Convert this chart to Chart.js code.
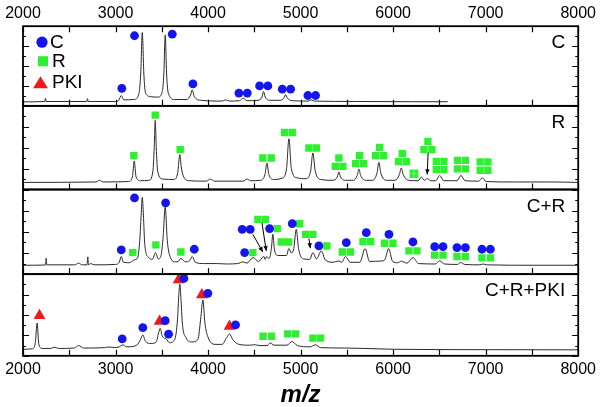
<!DOCTYPE html>
<html>
<head>
<meta charset="utf-8">
<script src="https://cdn.jsdelivr.net/npm/chart.js@4.4.1/dist/chart.umd.min.js"></script>
<style>
  html, body { margin: 0; padding: 0; background: #fff; }
  #wrap { width: 600px; height: 407px; }
</style>
</head>
<body>
<div id="wrap"><canvas id="spec" width="600" height="407"></canvas></div>
<script>
// ---- valores: [m/z, intensidad relativa 0-100 por panel] ----
const panelNames = ['C', 'R', 'C+R', 'C+R+PKI'];
const legendNames = ['C', 'R', 'PKI'];

// espectro C
const specC = [
  [2000, 5], [2236, 5.5], [2243, 9.5], [2250, 5.5], [2690, 5.5], [2697, 9], [2704, 5.5],
  [3000, 5.5], [3035, 7], [3062, 13], [3090, 7.5], [3200, 8],
  [3250, 14], [3272, 40], [3289, 92], [3306, 40], [3325, 16], [3380, 11.5],
  [3460, 11], [3505, 18], [3522, 40], [3537, 89], [3552, 40], [3570, 16], [3640, 8],
  [3770, 8], [3808, 13], [3829, 20], [3850, 12], [3920, 7],
  [4150, 6], [4189, 7.5], [4230, 6],
  [4340, 6.5], [4381, 9.6], [4420, 6.5],
  [4540, 7], [4582, 11], [4600, 18], [4618, 11], [4670, 7],
  [4780, 7], [4820, 10], [4838, 14], [4856, 10], [4910, 6.5],
  [5080, 6], [5116, 7.5], [5150, 6],
  [5600, 5.5], [6200, 5.2], [6590, 5.2]
];
// espectro R
const specR = [
  [2000, 8.5], [2790, 9], [2827, 11], [2865, 9],
  [3140, 9.5], [3182, 15], [3202, 34], [3222, 15], [3270, 10.5],
  [3360, 11], [3404, 22], [3418, 50], [3429, 82.5], [3440, 50], [3455, 22], [3510, 12.5],
  [3630, 12], [3672, 20], [3695, 41.7], [3710, 27], [3730, 17], [3790, 10.5],
  [3980, 10], [4024, 12.5], [4070, 10],
  [4380, 10], [4420, 12.5], [4460, 10.5],
  [4570, 11], [4615, 18], [4636, 31.7], [4657, 18], [4710, 12],
  [4800, 13.5], [4848, 25], [4874, 60.7], [4900, 25], [4960, 14],
  [5060, 13], [5108, 22], [5133, 43.7], [5158, 22], [5220, 12],
  [5350, 11], [5396, 15], [5414, 21], [5432, 15], [5490, 11],
  [5570, 11], [5612, 17], [5630, 24.6], [5648, 17], [5710, 11],
  [5780, 11], [5826, 20], [5846, 32.5], [5866, 20], [5930, 11],
  [6020, 11], [6068, 18], [6088, 25.8], [6108, 18], [6170, 11],
  [6270, 10.5], [6305, 14.7], [6338, 11], [6370, 13], [6405, 10.5],
  [6460, 10.5], [6503, 16.7], [6548, 10.5],
  [6690, 10.5], [6733, 16.7], [6778, 10.5],
  [6925, 10], [6964, 13.9], [7005, 9.5],
  [7300, 9], [7700, 9], [8000, 8.5]
];
// espectro C+R
const specCR = [
  [2000, 10.5], [2242, 10.8], [2250, 18.8], [2258, 11], [2560, 11], [2600, 13], [2640, 11],
  [2692, 11], [2700, 20.4], [2708, 11], [2730, 12.5], [2770, 11],
  [3000, 11.5], [3040, 14], [3062, 20.8], [3085, 14], [3150, 13.5], [3205, 17], [3238, 19],
  [3262, 40], [3277, 70], [3289, 90.6], [3301, 70], [3316, 35], [3355, 20],
  [3400, 17.5], [3432, 25.5], [3462, 18],
  [3492, 22], [3515, 45], [3537, 79.6], [3559, 40], [3592, 20], [3650, 14.5],
  [3680, 15], [3703, 18.5], [3760, 14.5], [3800, 16], [3829, 20.8], [3862, 14], [3960, 12.5],
  [4100, 12.5], [4200, 12], [4320, 12.5], [4376, 14.5], [4420, 13], [4485, 19.6], [4545, 15],
  [4603, 20.8], [4617, 17.5], [4632, 20.8], [4660, 18.5], [4684, 30], [4700, 47], [4716, 30], [4752, 22],
  [4848, 22], [4873, 30.2], [4900, 25], [4926, 30], [4953, 52.9], [4978, 30], [5030, 18],
  [5100, 17.5], [5133, 25.5], [5172, 18], [5224, 27.5], [5265, 17],
  [5350, 14], [5406, 15.6], [5445, 14], [5486, 20.8], [5535, 14],
  [5640, 14], [5697, 30.2], [5745, 15], [5870, 15.5], [5910, 17], [5951, 30.2], [5995, 15],
  [6050, 13.5], [6088, 15.3], [6150, 13], [6214, 19.6], [6275, 12.5],
  [6455, 12], [6503, 15.6], [6555, 12],
  [6695, 11.5], [6730, 13.7], [6772, 11.5],
  [6935, 11], [6971, 12], [7012, 11],
  [7500, 10.5], [8000, 10.5]
];
// espectro C+R+PKI
const specCRP = [
  [2000, 8], [2100, 8.5], [2132, 15], [2153, 40.2], [2170, 15], [2205, 9],
  [2300, 9], [2340, 10.6], [2385, 9], [2555, 9.5], [2600, 12.6], [2655, 9.5],
  [2880, 10], [2930, 10.8], [2990, 10],
  [3040, 11], [3079, 13.4], [3120, 11],
  [3230, 13], [3270, 20], [3295, 25.6], [3322, 18], [3385, 15],
  [3440, 17], [3465, 28], [3483, 33.8], [3505, 24], [3548, 20.7], [3585, 16],
  [3640, 20], [3670, 45], [3684, 75], [3695, 87.8], [3707, 70], [3722, 40], [3762, 22], [3825, 17],
  [3890, 20], [3920, 45], [3944, 68.3], [3966, 40], [4002, 22], [4085, 14],
  [4150, 14], [4200, 22], [4232, 26.8], [4266, 20], [4335, 14],
  [4450, 13], [4503, 13.6], [4560, 12.5], [4640, 12.5], [4672, 15.9], [4712, 13],
  [4850, 13], [4910, 17.5], [4965, 12.5],
  [5100, 11], [5162, 13.4], [5215, 10],
  [5500, 9.5], [6000, 8], [7000, 7.5], [8000, 7.3]
];

// marcadores
const circC = [[3068, 22], [3205, 88], [3613, 90], [3836, 27.5], [4333, 16], [4424, 16],
  [4557, 25], [4646, 25], [4802, 21], [4892, 21], [5079, 13], [5162, 13]];

const sqR = [[3198, 40.5], [3429, 89], [3699, 47.6], [4592, 37.7], [4683, 37.7], [4827, 68.2], [4910, 68.2],
  [5090, 49.6], [5170, 49.6], [5414, 37.7], [5375, 27.7], [5457, 27.7],
  [5638, 40.5], [5595, 31], [5681, 31], [5854, 50.4], [5811, 40.5], [5897, 40.5],
  [6099, 42.9], [6059, 33.3], [6143, 33.3], [6376, 57.5], [6333, 47.6], [6419, 47.6],
  [6467, 33.7], [6549, 33.7], [6467, 23.8], [6549, 23.8],
  [6695, 34.9], [6781, 34.9], [6695, 24.6], [6781, 24.6],
  [6941, 33], [7024, 33], [6941, 23], [7024, 23]];
const sqRsmall = [[6200, 21.5], [6250, 21.5], [6200, 16.2], [6250, 16.2]];
const arrowsR = [[6378, 44, 6368, 18]];

const circCR = [[3062, 28.6], [3205, 90.2], [3541, 84.3], [3851, 29.4], [4369, 52.9], [4455, 52.9],
  [4395, 25.5], [4665, 53.8], [4910, 59.6], [5198, 33.3], [5494, 37.3], [5710, 49], [5955, 47],
  [6214, 38], [6449, 32.5], [6539, 32.5], [6690, 31.4], [6781, 31.4], [6960, 29.4], [7051, 29.4]];
const sqCR = [[3187, 25.5], [3436, 34.5], [3706, 26.2], [4484, 25.5], [4538, 64.7], [4618, 64.7],
  [4748, 53.8], [4791, 38], [4870, 38], [4989, 59.6], [5054, 47], [5133, 47], [5284, 33.3],
  [5451, 26.2], [5537, 26.2], [5674, 38.4], [5757, 38.4], [5908, 36.5], [5998, 36.5],
  [6171, 27.5], [6257, 27.5], [6449, 22.4], [6539, 22.4], [6690, 20.8], [6781, 20.8],
  [6960, 19.2], [7051, 19.2]];
const arrowsCR = [[4484, 47, 4592, 26.2], [4582, 60.8, 4629, 27.4], [5090, 42, 5105, 30.6]];

const triCRP = [[2178, 49.2], [3476, 42.3], [3681, 93], [3933, 74.7], [4232, 36.2]];
const circCRP = [[3072, 20.7], [3295, 34.5], [3537, 43], [3573, 26.5], [3739, 94.8], [3998, 76.5], [4297, 37.8]];
const sqCRP = [[4595, 24], [4686, 24], [4860, 26.8], [4946, 26.8], [5133, 21.6], [5216, 21.6]];

const BLUE = '#1414ee';
const GREEN = '#2ef02e';
const RED = '#f01818';
const FONT = 'Arial, "Liberation Sans", sans-serif';

function marks(data, axis, style, color, r) {
  return {
    type: 'scatter', data: data, yAxisID: axis, pointStyle: style,
    pointRadius: r, pointHoverRadius: r, backgroundColor: color, borderWidth: 0
  };
}
function trace(data, axis) {
  return {
    type: 'line', data: data, yAxisID: axis, borderColor: '#2a2a2a', borderWidth: 1,
    pointRadius: 0, cubicInterpolationMode: 'monotone', fill: false
  };
}

const panelIds = ['y1', 'y2', 'y3', 'y4'];
const arrowSets = { y2: arrowsR, y3: arrowsCR };

function yAxis(weight) {
  return {
    type: 'linear', position: 'left', stack: 'panels', stackWeight: weight,
    min: 0, max: 100, offset: false,
    ticks: { display: false, stepSize: 12.5 },
    grid: { display: false, drawTicks: false },
    border: { display: false }
  };
}

// marco, ticks interiores, etiquetas, flechas y leyenda
const framePlugin = {
  id: 'framePlugin',
  afterDatasetsDraw(chart) {
    const ctx = chart.ctx;
    const area = chart.chartArea;
    const xs = chart.scales.x;
    ctx.save();
    ctx.strokeStyle = '#000';
    ctx.fillStyle = '#000';
    panelIds.forEach((id, p) => {
      const s = chart.scales[id];
      ctx.lineWidth = 1.2;
      xs.ticks.forEach(t => {
        const px = Math.round(xs.getPixelForValue(t.value)) + 0.5;
        ctx.beginPath();
        ctx.moveTo(px, s.bottom);
        ctx.lineTo(px, s.bottom - 6);
        if (p === 0) {
          ctx.moveTo(px, s.top);
          ctx.lineTo(px, s.top + 6);
        }
        ctx.stroke();
      });
      s.ticks.forEach((t, i) => {
        const py = Math.round(s.getPixelForValue(t.value)) + 0.5;
        const len = i % 2 ? 3 : 6;
        ctx.beginPath();
        ctx.moveTo(area.left, py);
        ctx.lineTo(area.left + len, py);
        ctx.moveTo(area.right, py);
        ctx.lineTo(area.right - len, py);
        ctx.stroke();
      });
      ctx.lineWidth = 1.8;
      ctx.strokeRect(area.left, s.top, area.right - area.left, s.bottom - s.top);

      ctx.font = '19px ' + FONT;
      ctx.textAlign = 'right';
      ctx.textBaseline = 'middle';
      ctx.fillText(panelNames[p], area.right - 13, s.top + 17);

      (arrowSets[id] || []).forEach(a => {
        const x0 = xs.getPixelForValue(a[0]), y0 = s.getPixelForValue(a[1]);
        const x1 = xs.getPixelForValue(a[2]), y1 = s.getPixelForValue(a[3]);
        const ang = Math.atan2(y1 - y0, x1 - x0);
        ctx.lineWidth = 1;
        ctx.beginPath();
        ctx.moveTo(x0, y0);
        ctx.lineTo(x1, y1);
        ctx.stroke();
        ctx.beginPath();
        ctx.moveTo(x1, y1);
        ctx.lineTo(x1 - 5 * Math.cos(ang) + 2.2 * Math.sin(ang), y1 - 5 * Math.sin(ang) - 2.2 * Math.cos(ang));
        ctx.lineTo(x1 - 5 * Math.cos(ang) - 2.2 * Math.sin(ang), y1 - 5 * Math.sin(ang) + 2.2 * Math.cos(ang));
        ctx.closePath();
        ctx.fill();
      });
    });

    // leyenda
    const top = chart.scales.y1.top;
    const lx = area.left;
    ctx.fillStyle = BLUE;
    ctx.beginPath();
    ctx.arc(lx + 19, top + 16, 5.6, 0, Math.PI * 2);
    ctx.fill();
    ctx.fillStyle = GREEN;
    ctx.fillRect(lx + 15, top + 30, 10, 10);
    ctx.fillStyle = RED;
    ctx.beginPath();
    ctx.moveTo(lx + 17.5, top + 50);
    ctx.lineTo(lx + 25, top + 62);
    ctx.lineTo(lx + 10, top + 62);
    ctx.closePath();
    ctx.fill();
    ctx.fillStyle = '#000';
    ctx.font = '19px ' + FONT;
    ctx.textAlign = 'left';
    ctx.textBaseline = 'middle';
    ctx.fillText(legendNames[0], lx + 27, top + 17);
    ctx.fillText(legendNames[1], lx + 29, top + 36);
    ctx.fillText(legendNames[2], lx + 29, top + 57);
    ctx.restore();
  }
};

const tickLabel = v => (v % 1000 === 0 ? String(v) : '');

new Chart(document.getElementById('spec'), {
  data: {
    datasets: [
      marks(circC, 'y1', 'circle', BLUE, 4.4),
      marks(circCR, 'y3', 'circle', BLUE, 4.4),
      marks(circCRP, 'y4', 'circle', BLUE, 4.4),
      marks(sqR, 'y2', 'rect', GREEN, 5.2),
      marks(sqRsmall, 'y2', 'rect', GREEN, 3),
      marks(sqCR, 'y3', 'rect', GREEN, 5.2),
      marks(sqCRP, 'y4', 'rect', GREEN, 5.2),
      marks(triCRP, 'y4', 'triangle', RED, 6.8),
      trace(specC, 'y1'),
      trace(specR, 'y2'),
      trace(specCR, 'y3'),
      trace(specCRP, 'y4')
    ]
  },
  options: {
    responsive: false,
    animation: false,
    devicePixelRatio: 1,
    layout: { padding: { left: 23, right: 21, top: 1, bottom: 0 } },
    plugins: { legend: { display: false }, tooltip: { enabled: false } },
    scales: {
      x: {
        type: 'linear', position: 'bottom', min: 2000, max: 8000,
        ticks: { stepSize: 500, autoSkip: false, maxRotation: 0, padding: 4, color: '#000',
          font: { family: FONT, size: 16 }, callback: tickLabel },
        grid: { display: false, drawTicks: false },
        border: { display: false },
        title: { display: true, text: 'm/z', color: '#000', padding: { top: 0, bottom: 0 },
          font: { family: FONT, size: 24, weight: 'bold', style: 'italic', lineHeight: 1 } }
      },
      xTop: {
        type: 'linear', position: 'top', min: 2000, max: 8000,
        ticks: { stepSize: 500, autoSkip: false, maxRotation: 0, padding: 3, color: '#000',
          font: { family: FONT, size: 16 }, callback: tickLabel },
        grid: { display: false, drawTicks: false },
        border: { display: false }
      },
      y4: yAxis(82),
      y3: yAxis(85),
      y2: yAxis(84),
      y1: yAxis(80)
    }
  },
  plugins: [framePlugin]
});
</script>
</body>
</html>
